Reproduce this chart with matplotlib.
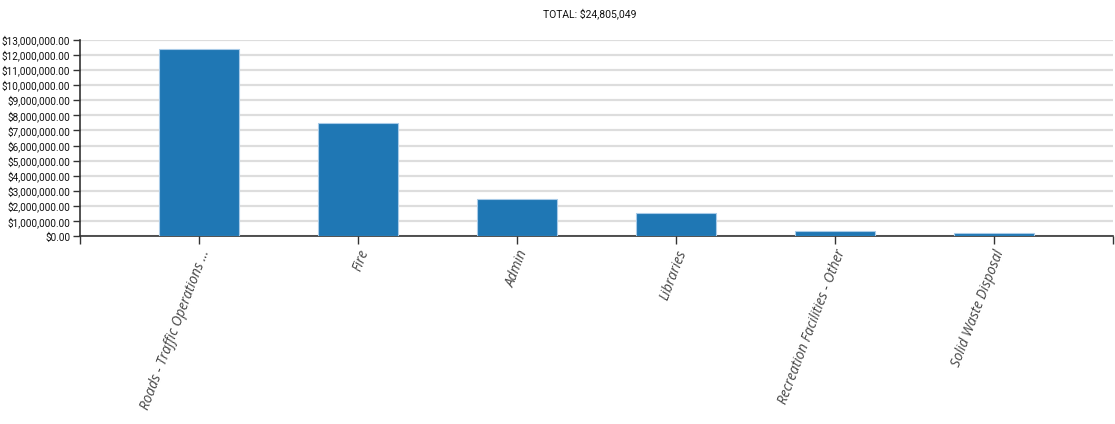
import matplotlib.pyplot as plt
import numpy as np
from matplotlib.ticker import FuncFormatter, MultipleLocator

# spending by service area
services = ['Roads - Traffic Operations ...', 'Fire', 'Admin', 'Libraries',
            'Recreation Facilities - Other', 'Solid Waste Disposal']
amounts = [12390000, 7500000, 2500000, 1540000, 360000, 240000]
total_label = 'TOTAL: $24,805,049'

narrow = ['Roboto', 'DejaVu Sans']
plt.rcParams['font.family'] = ['Open Sans', 'DejaVu Sans']

fig = plt.figure(figsize=(11.15, 4.24), dpi=100)
ax = fig.add_axes([80 / 1115, 1 - 236.5 / 424, 1033 / 1115, 197 / 424])

x = np.arange(len(services))
ax.bar(x, amounts, width=0.5, color='#1f77b4', edgecolor='#a9cbe8',
       linewidth=0.8, zorder=3)

ax.set_xlim(-0.75, len(services) - 0.25)
ax.set_ylim(0, 13000000)
ax.yaxis.set_major_locator(MultipleLocator(1000000))
ax.yaxis.set_major_formatter(FuncFormatter(lambda v, p: '${:,.2f}'.format(v)))
ax.grid(axis='y', color='#dddddd', linewidth=1.6, zorder=0)

ax.set_xticks(x)
ax.set_xticks([-0.75, len(services) - 0.25], minor=True)
ax.set_xticklabels(services, rotation=69, ha='right', rotation_mode='anchor',
                   fontstyle='italic', fontsize=9.8, color='#444444')
ax.tick_params(axis='x', which='both', length=6, width=1, color='#333333',
               direction='out', pad=2)
ax.tick_params(axis='y', length=5, width=1, color='#333333', pad=2)
for lbl in ax.get_yticklabels():
    lbl.set_family(narrow)
    lbl.set_fontsize(7.2)
    lbl.set_color('#111111')

for s in ['top', 'right']:
    ax.spines[s].set_visible(False)
for s in ['left', 'bottom']:
    ax.spines[s].set_color('#333333')
    ax.spines[s].set_linewidth(1.2)

fig.text(590 / 1115, 1 - 14 / 424, total_label, ha='center', va='center',
         fontsize=7.5, color='#111111', family=narrow)

fig.savefig('out.png', dpi=100)
